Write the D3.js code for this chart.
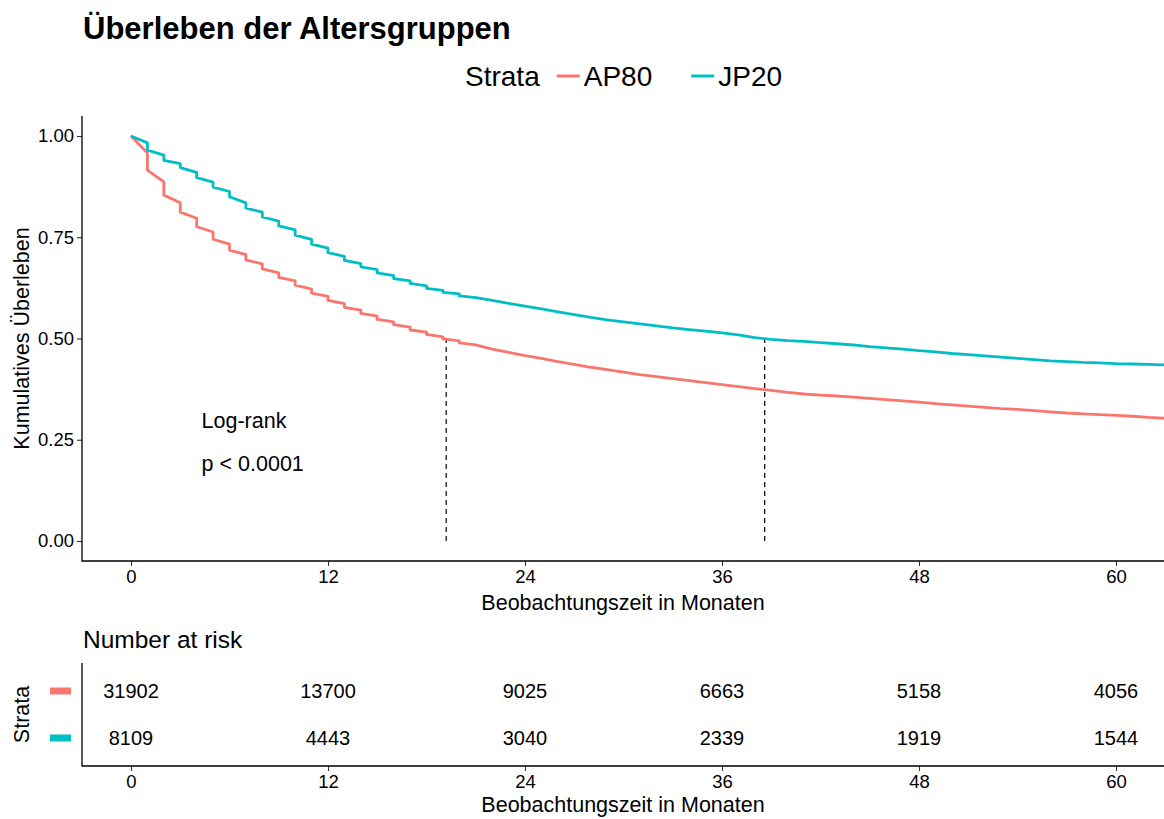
<!DOCTYPE html>
<html>
<head>
<meta charset="utf-8">
<script src="https://cdn.jsdelivr.net/npm/d3@7"></script>
<style>
  body { margin: 0; background: #fff; }
  svg { display: block; }
  text { font-family: "Liberation Sans", Arial, Helvetica, sans-serif; fill: #000; }
</style>
</head>
<body>
<svg id="chart" width="1164" height="819"></svg>
<script>
// Kaplan-Meier estimates by age group (months after start of observation).
// Months 1-20 carry the value just before and just after each month mark.
const curveTime = [0, 1,1, 2,2, 3,3, 4,4, 5,5, 6,6, 7,7, 8,8, 9,9, 10,10,
  11,11, 12,12, 13,13, 14,14, 15,15, 16,16, 17,17, 18,18, 19,19, 20,20,
  21,22,23,24,25,26,27,28,29,30,31,32,33,34,35,36,37,38,39,40,41,42,
  43,44,45,46,47,48,49,50,51,52,53,54,55,56,57,58,59,60,61,62,63];

const survAP80 = [1, 0.958,0.916, 0.887,0.854, 0.835,0.812, 0.797,0.776, 0.763,0.745,
  0.733,0.718, 0.707,0.694, 0.684,0.672, 0.662,0.651, 0.642,0.632, 0.622,0.612,
  0.604,0.594, 0.586,0.577, 0.570,0.562, 0.555,0.547, 0.541,0.534, 0.528,0.521,
  0.516,0.510, 0.504,0.499, 0.494,0.489,
  0.484,0.474,0.466,0.458,0.451,0.443,0.436,0.429,0.423,0.417,0.411,0.406,0.401,
  0.396,0.391,0.386,0.381,0.376,0.372,0.367,0.363,0.360,0.358,0.355,0.352,0.349,
  0.346,0.343,0.339,0.336,0.333,0.330,0.327,0.325,0.322,0.319,0.316,0.314,0.312,
  0.310,0.308,0.305,0.303];

const survJP20 = [1, 0.983,0.965, 0.953,0.940, 0.932,0.922, 0.910,0.897, 0.886,0.874,
  0.863,0.850, 0.835,0.822, 0.812,0.800, 0.790,0.778, 0.768,0.755, 0.745,0.733,
  0.723,0.712, 0.703,0.693, 0.685,0.677, 0.670,0.662, 0.655,0.648, 0.642,0.636,
  0.630,0.624, 0.619,0.614, 0.610,0.605,
  0.601,0.594,0.587,0.580,0.573,0.566,0.559,0.552,0.546,0.541,0.536,0.531,0.526,
  0.522,0.518,0.514,0.509,0.502,0.498,0.495,0.493,0.490,0.487,0.484,0.480,0.477,
  0.474,0.470,0.467,0.463,0.460,0.457,0.454,0.451,0.448,0.445,0.443,0.441,0.440,
  0.438,0.437,0.436,0.435];

const strata = ["AP80", "JP20"];
const strataColors = ["#F8766D", "#00BFC4"];
const medianSurvival = [19.2, 38.6];   // months at which each curve reaches 0.5

const timeTicks = [0, 12, 24, 36, 48, 60];
const survTicks = [0, 0.25, 0.5, 0.75, 1];
const riskAP80 = [31902, 13700, 9025, 6663, 5158, 4056];
const riskJP20 = [8109, 4443, 3040, 2339, 1919, 1544];

const svg = d3.select("#chart");

const TICK_FONT = "18.5px";
const TITLE_FONT = "21.5px";

// ---------- main survival panel ----------
const panel = { left: 82, right: 1164, top: 116, bottom: 561 };
const x = d3.scaleLinear().domain([0, 60]).range([131, 1116]);
const y = d3.scaleLinear().domain([0, 1]).range([541, 136]);

svg.append("text")
  .attr("x", 83).attr("y", 39)
  .style("font-size", "31px").style("font-weight", "bold")
  .text("Überleben der Altersgruppen");

// legend
const legend = svg.append("g").style("font-size", "28px");
let lx = 465;
const legTitle = legend.append("text").attr("x", lx).attr("y", 86).text("Strata");
lx += legTitle.node().getComputedTextLength() + 17;
strata.forEach((s, i) => {
  legend.append("line")
    .attr("x1", lx).attr("x2", lx + 23).attr("y1", 76).attr("y2", 76)
    .attr("stroke", strataColors[i]).attr("stroke-width", 3);
  const t = legend.append("text").attr("x", lx + 27).attr("y", 86).text(s);
  lx += 27 + t.node().getComputedTextLength() + 39;
});

svg.append("defs").append("clipPath").attr("id", "panelClip")
  .append("rect")
  .attr("x", panel.left).attr("y", panel.top)
  .attr("width", panel.right - panel.left).attr("height", panel.bottom - panel.top);

const plotG = svg.append("g").attr("clip-path", "url(#panelClip)");

// median survival markers
plotG.selectAll("line.median").data(medianSurvival).join("line")
  .attr("class", "median")
  .attr("x1", d => x(d)).attr("x2", d => x(d))
  .attr("y1", y(0)).attr("y2", y(0.5))
  .attr("stroke", "#000").attr("stroke-width", 1.2)
  .attr("stroke-dasharray", "5,4");

const line = d3.line()
  .x((d, i) => x(curveTime[i]))
  .y(d => y(d))
  .curve(d3.curveLinear);

[survAP80, survJP20].forEach((series, i) => {
  plotG.append("path")
    .datum(series)
    .attr("d", line)
    .attr("fill", "none")
    .attr("stroke", strataColors[i])
    .attr("stroke-width", 2.8)
    .attr("stroke-linejoin", "round");
});

// log-rank annotation
svg.append("text").attr("x", x(4.3)).attr("y", y(0.25) - 12)
  .style("font-size", TITLE_FONT).text("Log-rank");
svg.append("text").attr("x", x(4.3)).attr("y", y(0.25) + 31)
  .style("font-size", TITLE_FONT).text("p < 0.0001");

function styleAxis(g) {
  g.select(".domain").remove();
  g.selectAll("text").style("font-size", TICK_FONT).attr("fill", "#1a1a1a");
  g.selectAll("line").attr("stroke", "#333").attr("stroke-width", 1.1);
}

// axes
svg.append("g")
  .attr("transform", `translate(${panel.left},0)`)
  .call(d3.axisLeft(y).tickValues(survTicks).tickFormat(d3.format(".2f"))
    .tickSize(5).tickPadding(3))
  .call(styleAxis);

svg.append("g")
  .attr("transform", `translate(0,${panel.bottom})`)
  .call(d3.axisBottom(x).tickValues(timeTicks).tickSize(5).tickPadding(4))
  .call(styleAxis);

svg.append("path")
  .attr("d", `M${panel.left},${panel.top}V${panel.bottom}H${panel.right}`)
  .attr("fill", "none").attr("stroke", "#000").attr("stroke-width", 1.3);

svg.append("text")
  .attr("transform", `translate(29,${(panel.top + panel.bottom) / 2}) rotate(-90)`)
  .attr("text-anchor", "middle")
  .style("font-size", TITLE_FONT)
  .text("Kumulatives Überleben");

svg.append("text")
  .attr("x", (panel.left + panel.right) / 2).attr("y", 610)
  .attr("text-anchor", "middle").style("font-size", TITLE_FONT)
  .text("Beobachtungszeit in Monaten");

// ---------- number-at-risk table ----------
const table = { top: 663, bottom: 766 };
const rowY = d3.scalePoint().domain(strata).range([691, 738]);

svg.append("text").attr("x", 83).attr("y", 648)
  .style("font-size", "24.5px").text("Number at risk");

const riskRows = [riskAP80, riskJP20];
strata.forEach((s, i) => {
  svg.append("g").selectAll("text").data(riskRows[i]).join("text")
    .attr("x", (d, j) => x(timeTicks[j]))
    .attr("y", rowY(s))
    .attr("dy", "0.35em")
    .attr("text-anchor", "middle")
    .style("font-size", "20px")
    .text(d => d);
  svg.append("rect")
    .attr("x", 50).attr("y", rowY(s) - 3.5)
    .attr("width", 21).attr("height", 7)
    .attr("fill", strataColors[i]);
});

svg.append("g")
  .attr("transform", `translate(0,${table.bottom})`)
  .call(d3.axisBottom(x).tickValues(timeTicks).tickSize(5).tickPadding(4))
  .call(styleAxis);

svg.append("path")
  .attr("d", `M${panel.left},${table.top}V${table.bottom}H${panel.right}`)
  .attr("fill", "none").attr("stroke", "#000").attr("stroke-width", 1.3);

svg.append("text")
  .attr("transform", `translate(29,${(table.top + table.bottom) / 2}) rotate(-90)`)
  .attr("text-anchor", "middle")
  .style("font-size", TITLE_FONT)
  .text("Strata");

svg.append("text")
  .attr("x", (panel.left + panel.right) / 2).attr("y", 812)
  .attr("text-anchor", "middle").style("font-size", TITLE_FONT)
  .text("Beobachtungszeit in Monaten");
</script>
</body>
</html>
